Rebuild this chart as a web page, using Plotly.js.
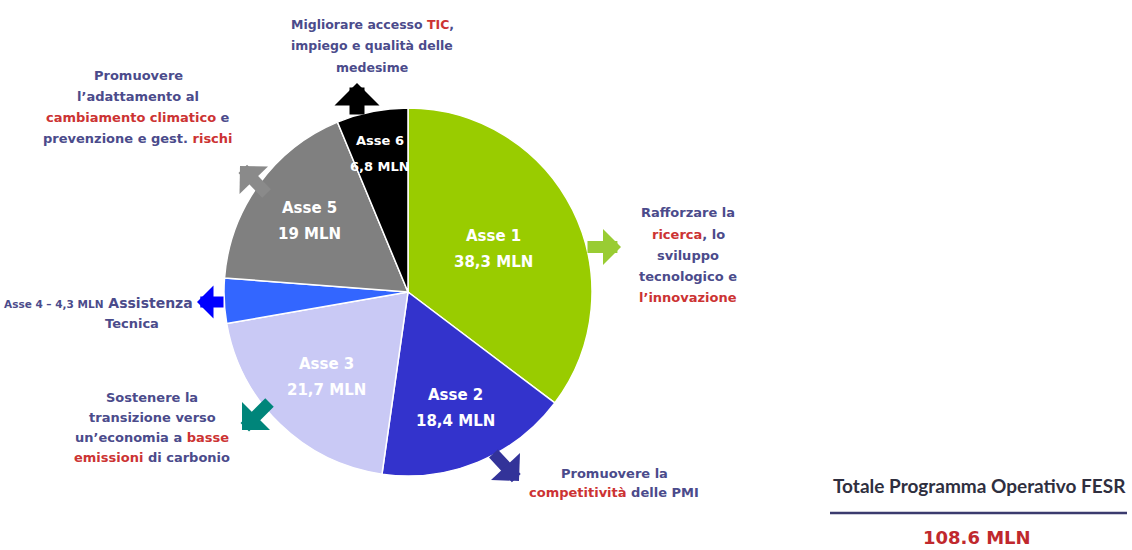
<!DOCTYPE html>
<html><head><meta charset="utf-8">
<script src="https://cdn.plot.ly/plotly-3.0.1.min.js"></script>
<style>html,body{margin:0;padding:0;background:#fff}#chart{width:1132px;height:550px}</style>
</head><body><div id="chart"></div>
<script>
// ---- data ----
const axes = ['Asse 1', 'Asse 2', 'Asse 3', 'Asse 4', 'Asse 5', 'Asse 6'];
const valuesMln = [38.3, 18.4, 21.7, 4.3, 19, 6.8];
const totalMln = 108.6;
const totalTitle = 'Totale Programma Operativo FESR';
const R = (s) => '<span style="color:#cc3333">' + s + '</span>';
const objTop = ['Migliorare accesso ' + R('TIC') + ',', 'impiego e qualità delle', 'medesime'];
const objClima = ['Promuovere', 'l’adattamento al', R('cambiamento climatico') + ' e', 'prevenzione e gest. ' + R('rischi')];
const objRicerca = ['Rafforzare la', R('ricerca') + ', lo', 'sviluppo', 'tecnologico e', R('l’innovazione')];
const objCarbonio = ['Sostenere la', 'transizione verso', 'un’economia a ' + R('basse'), R('emissioni') + ' di carbonio'];
const objPmi = ['Promuovere la', R('competitività') + ' delle PMI'];
const objAssistenza = ['Assistenza', 'Tecnica'];

// ---- style / layout ----
const W = 1132, H = 550;
const sliceColors = ['#99cc00', '#3333cc', '#c9c9f5', '#3366ff', '#808080', '#000000'];
const CX = 408, CY = 292, RAD = 184;
const labelRadius = [0.52, 0.68, 0.64, null, 0.66, 0.77];
const labelSize = [15, 15, 15, 0, 15, 13];
const TXT = '#4b4b8b';
const fmt = v => String(v).replace('.', ',');
const px = x => x / W, py = y => 1 - y / H;

const ann = [];
function block(lines, cx, y0, dy, size) {
  lines.forEach((t, i) => ann.push({
    x: px(cx), y: py(y0 + i * dy), xref: 'paper', yref: 'paper', text: t, showarrow: false,
    xanchor: 'center', yanchor: 'middle',
    font: {family: 'DejaVu Sans', size: size || 13, color: TXT, weight: 700}
  }));
}
block(objTop, 372, 24, 21.5, 12.5);
block(objClima, 138, 75, 21);
block(objRicerca, 688, 213, 21);
block(objCarbonio, 152, 397, 20.3);
block(objPmi, 614, 473, 19.5);
// Asse 4 line
ann.push({
  x: px(2), y: py(303), xref: 'paper', yref: 'paper', showarrow: false,
  xanchor: 'left', yanchor: 'middle',
  text: '<span style="font-size:10.5px">' + axes[3] + ' – ' + fmt(valuesMln[3]) + ' MLN</span> ' + objAssistenza[0],
  font: {family: 'DejaVu Sans', size: 14, color: TXT, weight: 700}
});
block([objAssistenza[1]], 132, 323, 20);

// slice labels from data
const sum = valuesMln.reduce((a, b) => a + b, 0);
let cum = 0;
valuesMln.forEach((v, i) => {
  const mid = (cum + v / 2) / sum * 2 * Math.PI;
  cum += v;
  if (labelRadius[i] == null) return;
  const lx = CX + labelRadius[i] * RAD * Math.sin(mid);
  const ly = CY - labelRadius[i] * RAD * Math.cos(mid);
  const f = {family: 'DejaVu Sans', size: labelSize[i], color: '#ffffff', weight: 700};
  ann.push({x: px(lx), y: py(ly), xref: 'paper', yref: 'paper', text: axes[i], showarrow: false, xanchor: 'center', yanchor: 'middle', yshift: 13, font: f});
  ann.push({x: px(lx), y: py(ly), xref: 'paper', yref: 'paper', text: fmt(v) + ' MLN', showarrow: false, xanchor: 'center', yanchor: 'middle', yshift: -13, font: f});
});

// block arrows
const arrows = [
  {tip: [621, 247], tail: [586, 247], color: '#99cc33', w: 12, s: 0.5},
  {tip: [519, 481], tail: [492, 452], color: '#333399', w: 12, s: 0.55},
  {tip: [242, 430], tail: [271, 401], color: '#00857a', w: 12, s: 0.55},
  {tip: [197, 302], tail: [225, 302], color: '#0000ff', w: 11, s: 0.5},
  {tip: [240, 166], tail: [268, 195], color: '#8a8a8a', w: 12, s: 0.55},
  {tip: [357, 83], tail: [357, 116], color: '#000000', w: 15, s: 0.5}
];
arrows.forEach(a => ann.push({
  x: px(a.tip[0]), y: py(a.tip[1]), xref: 'paper', yref: 'paper', text: '',
  showarrow: true, ax: a.tail[0] - a.tip[0], ay: a.tail[1] - a.tip[1],
  arrowhead: 1, arrowwidth: a.w, arrowsize: a.s, arrowcolor: a.color, standoff: 0
}));

// total box
ann.push({x: px(979), y: py(485), xref: 'paper', yref: 'paper', text: totalTitle, showarrow: false,
  xanchor: 'center', yanchor: 'middle', font: {family: 'Lato', size: 19, color: '#2f2f3f', weight: 700}});
ann.push({x: px(977), y: py(537), xref: 'paper', yref: 'paper', text: String(totalMln) + ' MLN', showarrow: false,
  xanchor: 'center', yanchor: 'middle', font: {family: 'DejaVu Sans', size: 18, color: '#c0282d', weight: 700}});

const trace = {
  type: 'pie', labels: axes, values: valuesMln, sort: false, direction: 'clockwise', rotation: 0,
  marker: {colors: sliceColors, line: {color: '#ffffff', width: 1.5}},
  textinfo: 'none', hoverinfo: 'label+value', showlegend: false,
  domain: {x: [px(CX - RAD), px(CX + RAD)], y: [py(CY + RAD), py(CY - RAD)]}
};

const layout = {
  width: W, height: H, margin: {l: 0, r: 0, t: 0, b: 0},
  paper_bgcolor: '#ffffff', plot_bgcolor: '#ffffff', showlegend: false,
  annotations: ann,
  shapes: [{type: 'line', xref: 'paper', yref: 'paper', x0: px(830), x1: px(1127), y0: py(513), y1: py(513),
    line: {color: '#3b3b6e', width: 2.5}}]
};
Plotly.newPlot('chart', [trace], layout, {displayModeBar: false, staticPlot: true});
</script>
</body></html>
